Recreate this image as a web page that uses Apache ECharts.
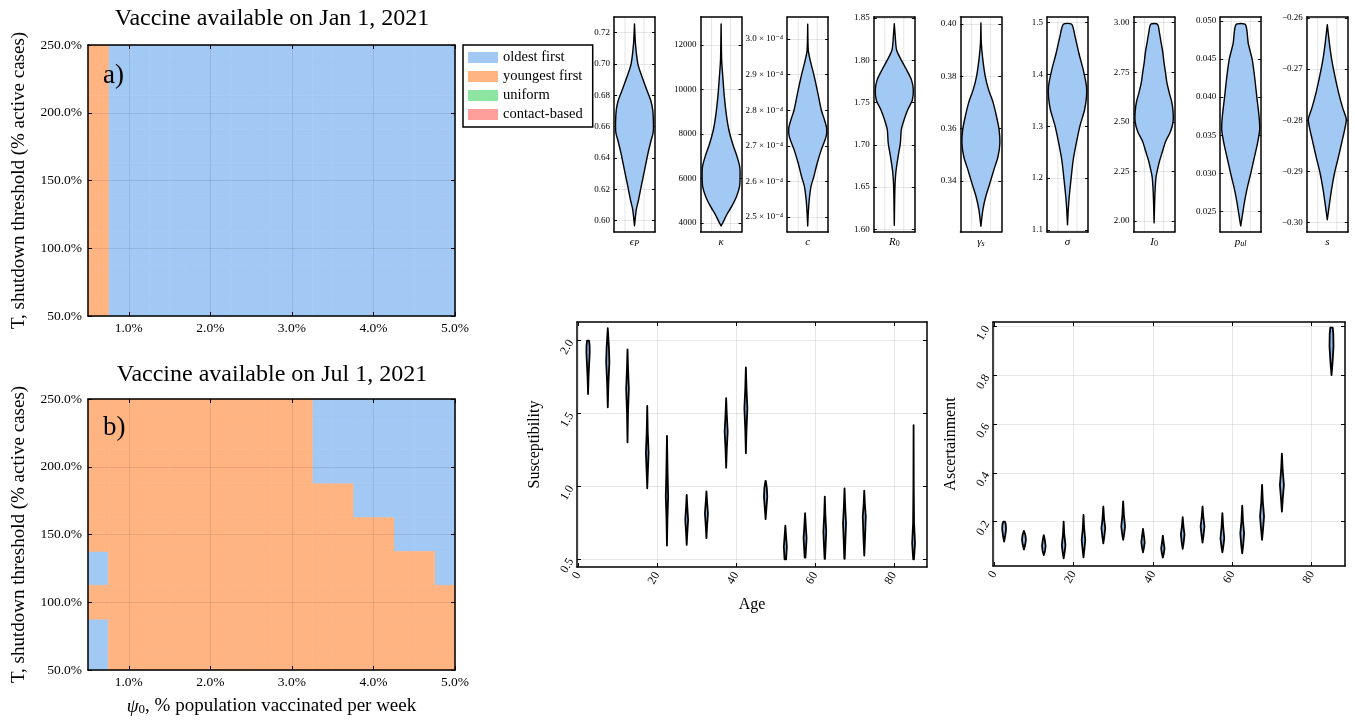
<!DOCTYPE html>
<html><head><meta charset="utf-8">
<script src="https://cdn.jsdelivr.net/npm/echarts@6/dist/echarts.min.js"></script>
<style>html,body{margin:0;padding:0;background:#fff}#c{width:1355px;height:721px}</style>
</head><body><div id="c"></div>
<script>
// ---------------- data ----------------
const strategies = ['oldest first', 'youngest first', 'uniform', 'contact-based'];
const strategyColors = ['#a1c9f4', '#ffb482', '#8de5a1', '#ff9f9b'];
const psiEdges = [0.5,0.75,1.0,1.25,1.5,1.75,2.0,2.25,2.5,2.75,3.0,3.25,3.5,3.75,4.0,4.25,4.5,4.75,5.0];
const thresholds = [50,75,100,125,150,175,200,225,250];
const psiTicks = [1,2,3,4,5];
const thresholdTicks = [50,100,150,200,250];
// best strategy (index into strategies), rows = thresholds (bottom->top), cols = psi cells
const bestJan = [
 [1,0,0,0,0,0,0,0,0,0,0,0,0,0,0,0,0,0],
 [1,0,0,0,0,0,0,0,0,0,0,0,0,0,0,0,0,0],
 [1,0,0,0,0,0,0,0,0,0,0,0,0,0,0,0,0,0],
 [1,0,0,0,0,0,0,0,0,0,0,0,0,0,0,0,0,0],
 [1,0,0,0,0,0,0,0,0,0,0,0,0,0,0,0,0,0],
 [1,0,0,0,0,0,0,0,0,0,0,0,0,0,0,0,0,0],
 [1,0,0,0,0,0,0,0,0,0,0,0,0,0,0,0,0,0],
 [1,0,0,0,0,0,0,0,0,0,0,0,0,0,0,0,0,0],
 [1,0,0,0,0,0,0,0,0,0,0,0,0,0,0,0,0,0]
];
const bestJul = [
 [0,1,1,1,1,1,1,1,1,1,1,1,1,1,1,1,1,1],
 [0,1,1,1,1,1,1,1,1,1,1,1,1,1,1,1,1,1],
 [1,1,1,1,1,1,1,1,1,1,1,1,1,1,1,1,1,1],
 [0,1,1,1,1,1,1,1,1,1,1,1,1,1,1,1,1,0],
 [1,1,1,1,1,1,1,1,1,1,1,1,1,1,1,0,0,0],
 [1,1,1,1,1,1,1,1,1,1,1,1,1,0,0,0,0,0],
 [1,1,1,1,1,1,1,1,1,1,1,0,0,0,0,0,0,0],
 [1,1,1,1,1,1,1,1,1,1,1,0,0,0,0,0,0,0],
 [1,1,1,1,1,1,1,1,1,1,1,0,0,0,0,0,0,0]
];

// posterior violins of model parameters: [value, relative half-width]
const violinEpsP = [[0.5968,0],[0.6068,0.09],[0.6132,0.21],[0.6217,0.35],[0.6323,0.53],[0.643,0.71],[0.6515,0.88],[0.656,0.98],[0.661,1.0],[0.6707,0.96],[0.677,0.85],[0.6834,0.65],[0.692,0.39],[0.700,0.18],[0.713,0.05],[0.7256,0]];
const violinKappa = [[3865,0],[4060,0.12],[4360,0.29],[4735,0.55],[5185,0.81],[5634,0.97],[6083,1.0],[6532,0.98],[6982,0.84],[7581,0.60],[8180,0.41],[8778,0.29],[9678,0.17],[10577,0.09],[11326,0.03],[12944,0]];
const violinC = [[2.475,0],[2.51,0.03],[2.548,0.08],[2.585,0.17],[2.613,0.32],[2.651,0.5],[2.688,0.71],[2.726,0.97],[2.749,1.0],[2.772,0.89],[2.8,0.72],[2.847,0.54],[2.894,0.35],[2.941,0.13],[2.969,0.03],[3.042,0]];
const violinR0 = [[1.605,0],[1.647,0.03],[1.667,0.08],[1.686,0.2],[1.702,0.32],[1.718,0.37],[1.73,0.52],[1.742,0.72],[1.753,0.95],[1.765,1.0],[1.777,0.9],[1.789,0.64],[1.8,0.37],[1.812,0.12],[1.828,0.05],[1.843,0]];
const violinGammaS = [[0.3226,0],[0.3287,0.1],[0.3338,0.25],[0.339,0.47],[0.3441,0.68],[0.3492,0.9],[0.3544,1.0],[0.3595,0.96],[0.3647,0.82],[0.37,0.64],[0.375,0.4],[0.38,0.23],[0.3865,0.1],[0.393,0.02],[0.4004,0]];
const violinSigma = [[1.11,0],[1.139,0.04],[1.164,0.09],[1.203,0.2],[1.235,0.3],[1.267,0.46],[1.3,0.65],[1.332,0.9],[1.357,1.0],[1.377,1.0],[1.409,0.83],[1.441,0.6],[1.473,0.4],[1.497,0.22]];
const violinI0 = [[1.99,0],[2.1,0.03],[2.17,0.06],[2.22,0.1],[2.25,0.16],[2.3,0.28],[2.35,0.44],[2.4,0.6],[2.45,0.86],[2.5,1.0],[2.55,1.0],[2.6,0.93],[2.65,0.79],[2.7,0.67],[2.75,0.6],[2.8,0.52],[2.85,0.46],[2.9,0.37],[2.95,0.28],[2.993,0.18]];
const violinPul = [[0.0231,0],[0.0248,0.11],[0.0261,0.19],[0.0278,0.32],[0.030,0.53],[0.0322,0.73],[0.034,0.89],[0.0357,1.0],[0.0374,0.97],[0.040,0.85],[0.0427,0.73],[0.045,0.6],[0.047,0.4],[0.0495,0.25]];
const violinS = [[-0.2995,0],[-0.2965,0.11],[-0.2934,0.23],[-0.2902,0.39],[-0.287,0.6],[-0.2839,0.79],[-0.2814,0.94],[-0.2798,1.0],[-0.2776,0.81],[-0.2744,0.58],[-0.2712,0.39],[-0.2681,0.23],[-0.2649,0.11],[-0.2613,0]];

const paramViolins = [violinEpsP, violinKappa, violinC, violinR0, violinGammaS, violinSigma, violinI0, violinPul, violinS];
const paramLabels = ['{i|ϵ}{s|P}', '{i|κ}', '{i|c}', '{i|R}{n|0}', '{i|γ}{s|s}', '{i|σ}', '{i|I}{n|0}', '{i|p}{s|ul}', '{i|s}'];
const paramRanges = [[0.5928,0.730],[3596,13258],[2.458,3.062],[1.597,1.851],[0.3204,0.4027],[1.096,1.511],[1.944,3.029],[0.0223,0.0505],[-0.3019,-0.2598]];
const paramTicks = [
 [0.60,0.62,0.64,0.66,0.68,0.70,0.72],
 [4000,6000,8000,10000,12000],
 [2.5,2.6,2.7,2.8,2.9,3.0],
 [1.60,1.65,1.70,1.75,1.80,1.85],
 [0.34,0.36,0.38,0.40],
 [1.1,1.2,1.3,1.4,1.5],
 [2.00,2.25,2.50,2.75,3.00],
 [0.025,0.030,0.035,0.040,0.045,0.050],
 [-0.30,-0.29,-0.28,-0.27,-0.26]
];
const paramDecimals = [2,0,1,2,2,1,2,3,2];

// age-group violins: [value, half-width in years]
const ageGroups = [2.5,7.5,12.5,17.5,22.5,27.5,32.5,37.5,42.5,47.5,52.5,57.5,62.5,67.5,72.5,85];
const suscViolins = [
 [[1.634,0],[1.75,0.12],[1.85,0.3],[1.92,0.42],[1.97,0.38],[2.0,0.25]],
 [[1.543,0],[1.7,0.15],[1.85,0.4],[1.95,0.3],[2.085,0]],
 [[1.303,0],[1.5,0.12],[1.67,0.34],[1.8,0.15],[1.94,0]],
 [[0.987,0],[1.1,0.15],[1.23,0.34],[1.38,0.12],[1.552,0]],
 [[0.594,0],[0.78,0.12],[0.93,0.3],[1.1,0.15],[1.346,0]],
 [[0.599,0],[0.68,0.15],[0.77,0.36],[0.86,0.15],[0.942,0]],
 [[0.645,0],[0.72,0.15],[0.816,0.38],[0.9,0.15],[0.965,0]],
 [[1.129,0],[1.25,0.15],[1.376,0.38],[1.5,0.15],[1.605,0]],
 [[1.227,0],[1.38,0.14],[1.536,0.38],[1.68,0.14],[1.817,0]],
 [[0.775,0],[0.85,0.2],[0.93,0.42],[0.99,0.3],[1.038,0.05]],
 [[0.5,0.2],[0.587,0.38],[0.65,0.2],[0.731,0]],
 [[0.512,0.1],[0.645,0.38],[0.73,0.18],[0.816,0]],
 [[0.503,0.05],[0.59,0.2],[0.69,0.36],[0.8,0.15],[0.93,0]],
 [[0.503,0.05],[0.62,0.2],[0.747,0.38],[0.87,0.15],[0.987,0]],
 [[0.526,0],[0.65,0.2],[0.793,0.38],[0.88,0.15],[0.971,0]],
 [[0.5,0.1],[0.61,0.36],[0.75,0.12],[1.0,0.04],[1.42,0]]
];
const ascViolins = [
 [[0.118,0],[0.14,0.25],[0.17,0.5],[0.19,0.4],[0.2,0.2]],
 [[0.086,0],[0.105,0.3],[0.125,0.5],[0.145,0.35],[0.162,0]],
 [[0.063,0],[0.08,0.3],[0.1,0.45],[0.125,0.25],[0.145,0]],
 [[0.049,0],[0.075,0.25],[0.104,0.45],[0.15,0.15],[0.2,0]],
 [[0.053,0],[0.09,0.25],[0.125,0.45],[0.17,0.18],[0.228,0]],
 [[0.111,0],[0.14,0.25],[0.173,0.48],[0.21,0.2],[0.262,0]],
 [[0.125,0],[0.15,0.25],[0.18,0.48],[0.225,0.2],[0.283,0]],
 [[0.074,0],[0.095,0.25],[0.115,0.42],[0.14,0.25],[0.17,0]],
 [[0.053,0],[0.07,0.25],[0.09,0.42],[0.115,0.2],[0.143,0]],
 [[0.088,0],[0.115,0.25],[0.148,0.45],[0.18,0.2],[0.218,0]],
 [[0.114,0],[0.145,0.25],[0.18,0.48],[0.22,0.2],[0.262,0]],
 [[0.074,0],[0.1,0.25],[0.132,0.48],[0.18,0.2],[0.235,0]],
 [[0.07,0],[0.105,0.25],[0.152,0.48],[0.2,0.2],[0.266,0]],
 [[0.125,0],[0.17,0.25],[0.221,0.5],[0.28,0.2],[0.351,0]],
 [[0.241,0],[0.3,0.25],[0.351,0.5],[0.41,0.2],[0.479,0]],
 [[0.801,0],[0.85,0.25],[0.92,0.5],[0.97,0.45],[0.996,0.3]]
];
const ageRange = [-0.3, 88.4];
const ageTicks = [0,20,40,60,80];
const suscRange = [0.447, 2.128];
const suscTicks = [0.5,1.0,1.5,2.0];
const ascRange = [0.018, 1.019];
const ascTicks = [0.2,0.4,0.6,0.8,1.0];

// ---------------- chart ----------------
const FONT = "'Liberation Serif','DejaVu Serif',serif";
const chart = echarts.init(document.getElementById('c'), null, {renderer: 'canvas'});
const option = {animation: false, backgroundColor: '#fff', grid: [], xAxis: [], yAxis: [], series: [], graphic: []};

function makeAxis(gi, c, pos, primary, z) {
  return {
    type: 'value', gridIndex: gi, position: pos, min: c.min, max: c.max, z: z || 0,
    axisLine: {show: true, onZero: false, lineStyle: {color: '#000', width: 1.5}},
    axisTick: {show: !!c.ticks, inside: true, length: c.tickLen || 4, customValues: c.ticks, lineStyle: {color: '#000', width: 1}},
    axisLabel: {show: primary && !!c.ticks && !c.noLabels, customValues: c.ticks, formatter: c.fmt, fontFamily: FONT,
      fontSize: c.fontSize || 12, color: '#000', margin: c.margin || 6, rotate: c.rotate || 0, hideOverlap: false},
    splitLine: {show: primary && !!c.grid, lineStyle: {color: 'rgba(0,0,0,0.09)', width: 1}},
    name: primary ? (c.name || '') : '', nameLocation: 'middle', nameGap: c.nameGap || 10, nameRotate: c.nameRotate || 0,
    nameTextStyle: Object.assign({fontFamily: FONT, color: '#000'}, c.nameStyle || {})
  };
}
function addGrid(rect, xc, yc, z) {
  const gi = option.grid.length;
  option.grid.push(Object.assign({containLabel: false}, rect));
  const xi = option.xAxis.length, yi = option.yAxis.length;
  option.xAxis.push(makeAxis(gi, xc, 'bottom', true, z), makeAxis(gi, xc, 'top', false, z));
  option.yAxis.push(makeAxis(gi, yc, 'left', true, z), makeAxis(gi, yc, 'right', false, z));
  return {xi, yi};
}

// ----- heatmap panels -----
const pct = v => v.toFixed(1) + '%';
const halfStep = (thresholds[1] - thresholds[0]) / 2;
const subRich = {
  a: {fontFamily: FONT, fontSize: 19, lineHeight: 19, verticalAlign: 'top', color: '#000'},
  ai: {fontFamily: FONT, fontSize: 19, lineHeight: 19, verticalAlign: 'top', fontStyle: 'italic', color: '#000'},
  s: {fontFamily: FONT, fontSize: 13, lineHeight: 13, padding: [9, 0, 0, 0], verticalAlign: 'bottom', color: '#000'}
};
function heatPanel(top, codes, withXName) {
  const xc = {min: psiEdges[0], max: psiEdges[psiEdges.length - 1], ticks: psiTicks, fmt: pct, fontSize: 13.5, margin: 5, grid: true};
  if (withXName) {
    xc.name = '{ai|ψ}{s|0}{a|, % population vaccinated per week}';
    xc.nameGap = 27;
    xc.nameStyle = {rich: subRich};
  }
  const yc = {min: thresholds[0], max: thresholds[thresholds.length - 1], ticks: thresholdTicks, fmt: pct, fontSize: 13.5, margin: 6, grid: true,
    name: 'T, shutdown threshold (% active cases)', nameGap: 59, nameRotate: 90, nameStyle: {fontSize: 19}};
  const ax = addGrid({left: 88, top: top, width: 367, height: 271}, xc, yc, 5);
  const yMin = thresholds[0], yMax = thresholds[thresholds.length - 1];
  strategies.forEach((name, k) => {
    const data = [];
    codes.forEach((row, r) => row.forEach((code, ci) => {
      if (code === k) data.push([psiEdges[ci], psiEdges[ci + 1], thresholds[r] - halfStep, thresholds[r] + halfStep]);
    }));
    option.series.push({
      type: 'custom', name: name, xAxisIndex: ax.xi, yAxisIndex: ax.yi, z: 2,
      itemStyle: {color: strategyColors[k]}, encode: {x: [0, 1], y: [2, 3]}, data: data,
      renderItem: (params, api) => {
        const p0 = api.coord([api.value(0), Math.min(api.value(3), yMax)]);
        const p1 = api.coord([api.value(1), Math.max(api.value(2), yMin)]);
        return {type: 'rect', shape: {x: p0[0], y: p0[1], width: p1[0] - p0[0], height: p1[1] - p0[1]},
          style: {fill: strategyColors[k], stroke: strategyColors[k], lineWidth: 0.6}};
      }
    });
  });
}
heatPanel(45, bestJan, false);
heatPanel(399, bestJul, true);

option.legend = {
  orient: 'vertical', left: 463, top: 45, icon: 'rect', itemWidth: 30, itemHeight: 11, itemGap: 4,
  padding: [5, 10, 5, 5], borderColor: '#000', borderWidth: 1.5, selectedMode: false, backgroundColor: '#fff',
  textStyle: {fontFamily: FONT, fontSize: 14.5, color: '#000', lineHeight: 14}, data: strategies
};

// ----- violin helper -----
function violinRender(profiles, fill, lw, smooth, gridXs) {
  return (params, api) => {
    const prof = profiles[params.dataIndex];
    const cx = api.value(0);
    const right = prof.map(p => api.coord([cx + p[1], p[0]]));
    const left = prof.slice().reverse().map(p => api.coord([cx - p[1], p[0]]));
    const children = [];
    if (gridXs) {
      const cs = params.coordSys;
      gridXs.forEach(gx => {
        const x = api.coord([gx, prof[0][0]])[0];
        children.push({type: 'line', shape: {x1: x, y1: cs.y, x2: x, y2: cs.y + cs.height},
          style: {stroke: 'rgba(0,0,0,0.1)', lineWidth: 1}});
      });
    }
    children.push({type: 'polygon', shape: {points: right.concat(left), smooth: smooth},
      style: {fill: fill, stroke: '#000', lineWidth: lw, lineJoin: 'round'}});
    return {type: 'group', children: children};
  };
}

// ----- parameter violins -----
const paramRich = {
  i: {fontFamily: FONT, fontSize: 11, lineHeight: 11, fontStyle: 'italic', verticalAlign: 'top', color: '#000'},
  s: {fontFamily: FONT, fontSize: 8, lineHeight: 8, fontStyle: 'italic', padding: [5, 0, 0, 0], verticalAlign: 'bottom', color: '#000'},
  n: {fontFamily: FONT, fontSize: 8, lineHeight: 8, padding: [5, 0, 0, 0], verticalAlign: 'bottom', color: '#000'}
};
paramViolins.forEach((prof, i) => {
  const dec = paramDecimals[i];
  const fmt = i === 2 ? (v => v.toFixed(1) + ' × 10⁻⁴') : (v => v.toFixed(dec).replace('-', '−'));
  const xc = {min: -0.08, max: 2.08, name: paramLabels[i], nameGap: 5, nameStyle: {rich: paramRich}};
  const yc = {min: paramRanges[i][0], max: paramRanges[i][1], ticks: paramTicks[i], fmt: fmt, fontSize: 9, margin: 4, tickLen: 3, grid: true};
  const ax = addGrid({left: 614 + i * 86.6, top: 17, width: 41, height: 215}, xc, yc, 0);
  option.series.push({
    type: 'custom', xAxisIndex: ax.xi, yAxisIndex: ax.yi, z: 2, encode: {x: 0, y: [1, 2]},
    data: [[1, prof[0][0], prof[prof.length - 1][0]]],
    renderItem: violinRender([prof], '#a1c9f4', 1.4, 0.25, [0.5, 1.5])
  });
});

// ----- age panels -----
function agePanel(left, top, width, height, yRange, yTicks, yName, violins, withXName) {
  const xc = {min: ageRange[0], max: ageRange[1], ticks: ageTicks, fmt: v => String(v), fontSize: 12, margin: 6, rotate: 60, grid: true};
  if (withXName) { xc.name = 'Age'; xc.nameGap = 30; xc.nameStyle = {fontSize: 16}; }
  const yc = {min: yRange[0], max: yRange[1], ticks: yTicks, fmt: v => v.toFixed(1), fontSize: 12, margin: 6, rotate: 60, grid: true,
    name: yName, nameGap: 34, nameRotate: 90, nameStyle: {fontSize: 16}};
  const ax = addGrid({left: left, top: top, width: width, height: height}, xc, yc, 0);
  option.series.push({
    type: 'custom', xAxisIndex: ax.xi, yAxisIndex: ax.yi, z: 2, encode: {x: 0, y: [1, 2]},
    data: ageGroups.map((a, i) => [a, violins[i][0][0], violins[i][violins[i].length - 1][0]]),
    renderItem: violinRender(violins, '#8fbbec', 1.8, 0, null)
  });
}
agePanel(577, 322, 350, 245, suscRange, suscTicks, 'Susceptibility', suscViolins, true);
agePanel(993, 322, 352, 244, ascRange, ascTicks, 'Ascertainment', ascViolins, false);

// ----- titles and panel letters -----
option.graphic = [
  {type: 'text', x: 272, y: 19, style: {text: 'Vaccine available on Jan 1, 2021', font: '24px ' + FONT, fill: '#000', textAlign: 'center', textVerticalAlign: 'middle'}},
  {type: 'text', x: 272, y: 375, style: {text: 'Vaccine available on Jul 1, 2021', font: '24px ' + FONT, fill: '#000', textAlign: 'center', textVerticalAlign: 'middle'}},
  {type: 'text', x: 103, y: 76, z: 10, style: {text: 'a)', font: '27px ' + FONT, fill: '#000', textAlign: 'left', textVerticalAlign: 'middle'}},
  {type: 'text', x: 103, y: 428, z: 10, style: {text: 'b)', font: '27px ' + FONT, fill: '#000', textAlign: 'left', textVerticalAlign: 'middle'}}
];

chart.setOption(option);
</script>
</body></html>
